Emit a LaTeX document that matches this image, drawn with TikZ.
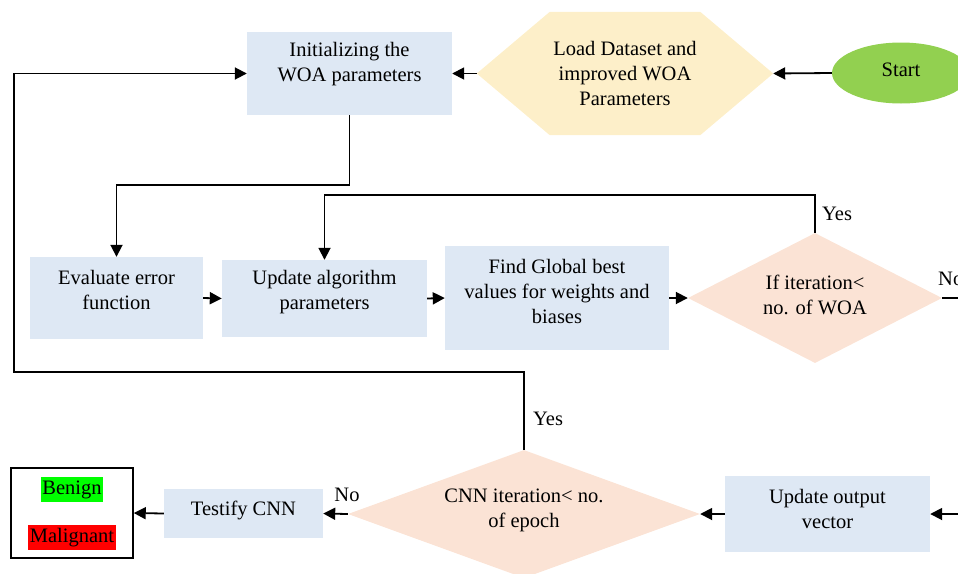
\documentclass[tikz,border=0pt]{standalone}
\usepackage{fontspec}
\setmainfont{Liberation Serif}
\newfontfamily\tnrfont{Liberation Serif}
\usetikzlibrary{arrows.meta,shapes.geometric,calc}
\definecolor{boxblue}{HTML}{DEE8F4}
\definecolor{decpeach}{HTML}{FBE3D5}
\definecolor{hexyel}{HTML}{FDEFC9}
\definecolor{startgreen}{HTML}{92D050}
\definecolor{benigngreen}{HTML}{00FF00}
\definecolor{malred}{HTML}{FF0000}
\begin{document}
\begin{tikzpicture}[x=1pt,y=-1pt,
  box/.style={fill=boxblue, inner sep=0, draw=none},
  dec/.style={diamond, fill=decpeach, inner sep=0},
  txt/.style={font=\tnrfont\fontsize{20.5}{25}\selectfont, align=center, inner sep=0},
  arr/.style={line width=1.8pt, -{Triangle[length=12pt,width=12pt]}},
  ln/.style={line width=1.8pt},
  lab/.style={font=\tnrfont\fontsize{20.5}{25}\selectfont, inner sep=0}
]
\useasboundingbox (0,0) rectangle (958,573);
\clip (0,0) rectangle (958,573);

% shapes
\node[box, minimum width=205pt, minimum height=83pt] (init) at (349.5,73.5) {};
\node[inner sep=0, minimum width=296pt, minimum height=123pt] (load) at (625,73.5) {};
\fill[hexyel] (load.west) -- ([xshift=73pt]load.north west) -- ([xshift=-73pt]load.north east)
  -- (load.east) -- ([xshift=-73pt]load.south east) -- ([xshift=73pt]load.south west) -- cycle;
\node[ellipse, fill=startgreen, inner sep=0, minimum width=138pt, minimum height=61pt] (start) at (901,73) {};
\node[box, minimum width=173pt, minimum height=82pt] (eval) at (116.5,298) {};
\node[box, minimum width=205pt, minimum height=77pt] (upd) at (324.5,298.5) {};
\node[box, minimum width=224pt, minimum height=104pt] (find) at (557,298) {};
\node[dec, minimum width=254pt, minimum height=130pt] (dec1) at (815,298) {};
\node[dec, minimum width=352pt, minimum height=128pt] (dec2) at (524,514) {};
\node[box, minimum width=205pt, minimum height=76pt] (outv) at (827.5,514) {};
\node[box, minimum width=159pt, minimum height=49pt] (test) at (243.5,513.5) {};
\node[draw, line width=1.5pt, fill=white, inner sep=0, minimum width=122pt, minimum height=90pt] (res) at (72,513) {};

% texts
\node[txt] (initt) at ([yshift=9pt]init.center) {Initializing the\\WOA parameters};
\node[txt] (loadt) at (load.center) {Load Dataset and\\improved WOA\\Parameters};
\node[txt] (startt) at ([yshift=3pt]start.center) {Start};
\node[txt] (evalt) at ([yshift=8.5pt]eval.center) {Evaluate error\\function};
\node[txt] (updt) at ([yshift=6.5pt]upd.center) {Update algorithm\\parameters};
\node[txt] (findt) at ([yshift=7pt]find.center) {Find Global best\\values for weights and\\biases};
\node[txt] (dec1t) at ([yshift=3pt]dec1.center) {If iteration<\\no. of WOA};
\node[txt] (dec2t) at ([yshift=3.5pt]dec2.center) {CNN iteration< no.\\of epoch};
\node[txt] (outvt) at ([yshift=5.5pt]outv.center) {Update output\\vector};
\node[txt] (testt) at ([yshift=3pt]test.center) {Testify CNN};
\node[lab, fill=benigngreen, inner xsep=1pt, minimum height=25pt] (benign) at (72,489.5) {Benign};
\node[lab, fill=malred, inner xsep=2pt, minimum height=25pt] (malig) at (72,537.5) {Malignant};

% labels
\node[lab, anchor=west] (yes1) at (822,214) {Yes};
\node[lab, anchor=west] (no1) at (938,279) {No};
\node[lab, anchor=west] (yes2) at (533,419) {Yes};
\node[lab] (no2) at (347,495) {No};

% connectors
\coordinate (offr1) at (962,298);
\coordinate (offr2) at (962,514);
\coordinate (lp1) at (14,372);
\draw[arr] (start.west) -- (load.east);
\draw[arr] (load.west) -- (init.east);
\draw[arr] (init.south) -- ++(0,70) -| (eval.north);
\draw[arr] (eval.east) -- (upd.west);
\draw[arr] (upd.east) -- (find.west);
\draw[arr] (find.east) -- (dec1.west);
\draw[arr] (dec1.north) -- ++(0,-38) -| (upd.north);
\draw[ln] (dec1.east) -- (offr1);
\draw[arr] (dec2.north) |- (lp1) |- (init.west);
\draw[arr] (offr2) -- (outv.east);
\draw[arr] (outv.west) -- (dec2.east);
\draw[arr] (dec2.west) -- (test.east);
\draw[arr] (test.west) -- (res.east);
\end{tikzpicture}
\end{document}
